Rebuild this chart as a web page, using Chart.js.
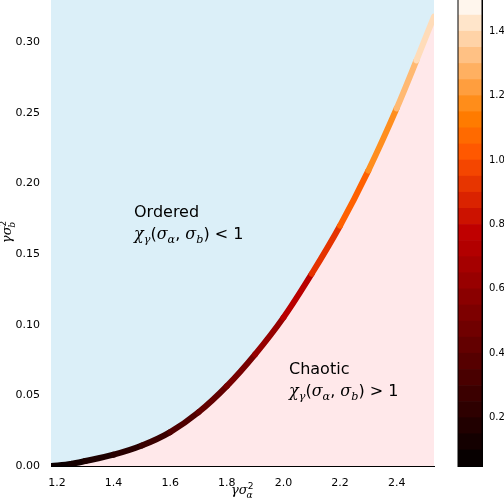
<!DOCTYPE html><html><head><meta charset="utf-8">
<script src="https://cdn.jsdelivr.net/npm/chart.js@4"></script>
<style>
body{margin:0;width:504px;height:504px;position:relative;background:#fff;font-family:"DejaVu Sans";overflow:hidden}
canvas{position:absolute;top:-10px}
.t{position:absolute;font-family:"DejaVu Sans";color:#000;white-space:nowrap}
.t i{font-family:"DejaVu Serif";font-style:italic}
sub,sup{font-size:70%;line-height:0}
</style></head><body>
<canvas id="c" style="left:0" width="440" height="514"></canvas>
<canvas id="cb" style="left:440px" width="64" height="514"></canvas>
<div class="t" style="left:134px;top:202px;font-size:16px">Ordered</div>
<div class="t" style="left:134px;top:224px;font-size:16px"><i>χ<sub>γ</sub></i>(<i>σ<sub>α</sub></i>, <i>σ<sub>b</sub></i>) &lt; 1</div>
<div class="t" style="left:289px;top:359px;font-size:16px">Chaotic</div>
<div class="t" style="left:289px;top:381px;font-size:16px"><i>χ<sub>γ</sub></i>(<i>σ<sub>α</sub></i>, <i>σ<sub>b</sub></i>) &gt; 1</div>
<div class="t" style="left:231px;top:482px;font-size:13px"><i>γσ</i><sup>2</sup><sub style="margin-left:-7px"><i>α</i></sub></div>
<div class="t" style="left:-4px;top:225px;font-size:13px;transform:rotate(-90deg)"><i>γσ</i><sup>2</sup><sub style="margin-left:-7px"><i>b</i></sub></div>
<script>
const boundaryX=[1.179,1.25,1.3,1.4,1.5,1.6,1.7,1.8,1.9,2.0,2.1,2.2,2.3,2.4,2.47,2.532];
const boundaryY=[0.0,0.0015,0.0035,0.008,0.0145,0.024,0.038,0.0565,0.079,0.105,0.136,0.170,0.209,0.253,0.287,0.318];
const chiValues=[0.1,0.13,0.16,0.2,0.27,0.35,0.42,0.5,0.62,0.75,0.92,1.05,1.18,1.3,1.4,1.48];
const xTicks=[1.2,1.4,1.6,1.8,2.0,2.2,2.4];
const yTicks=[0,0.05,0.1,0.15,0.2,0.25,0.3];
const cbTicks=[0.2,0.4,0.6,0.8,1.0,1.2,1.4];
const cbMin=0.05,cbMax=1.5;
function heat(v){const x=Math.max(0,Math.min(1,(v-cbMin)/(cbMax-cbMin)));const c=t=>Math.round(255*Math.max(0,Math.min(1,t)));return `rgb(${c(1.5*x)},${c(2*x-1)},${c(4*x-3)})`;}
const pts=boundaryX.map((x,i)=>({x,y:boundaryY[i]}));
Chart.defaults.font.family="DejaVu Sans";Chart.defaults.font.size=11;Chart.defaults.color="#000";
new Chart(document.getElementById('c'),{type:'line',data:{datasets:[
{data:pts,borderWidth:6,pointRadius:0,fill:false,cubicInterpolationMode:'monotone',borderJoinStyle:'round',borderCapStyle:'round',segment:{borderColor:ctx=>heat(chiValues[ctx.p0DataIndex])}},
{data:pts,borderWidth:0,pointRadius:0,cubicInterpolationMode:'monotone',borderColor:'rgba(0,0,0,0)',fill:'end',backgroundColor:'#dbeff8'},
{data:pts,borderWidth:0,pointRadius:0,cubicInterpolationMode:'monotone',borderColor:'rgba(0,0,0,0)',fill:'start',backgroundColor:'#ffe8ea'}]},
options:{responsive:false,animation:false,layout:{padding:{top:0,right:6,left:0,bottom:0}},
plugins:{legend:{display:false},tooltip:{enabled:false}},
scales:{x:{type:'linear',min:1.179,max:2.532,grid:{display:false},border:{color:'#000'},
afterBuildTicks:a=>{a.ticks=xTicks.map(v=>({value:v}))},ticks:{callback:v=>v.toFixed(1),maxRotation:0},afterFit:a=>{a.height=38}},
y:{min:0,max:0.33,grid:{display:false},border:{color:'#000'},afterBuildTicks:a=>{a.ticks=yTicks.map(v=>({value:v}))},
ticks:{callback:v=>v.toFixed(2)},afterFit:a=>{a.width=51}}}}});
const bandEdges=[];for(let v=cbMin;v<cbMax-1e-9;v+=0.05)bandEdges.push(+v.toFixed(2));
const cbData=bandEdges.map(v=>({label:'',data:[[v,Math.min(v+0.05,cbMax)]],backgroundColor:heat(v+0.025),barPercentage:1,categoryPercentage:1,borderWidth:0,borderSkipped:false}));
new Chart(document.getElementById('cb'),{type:'bar',data:{labels:[''],datasets:cbData},
options:{responsive:false,animation:false,layout:{padding:{left:18,top:0,bottom:38,right:0}},plugins:{legend:{display:false},tooltip:{enabled:false}},
scales:{x:{display:false,stacked:true},y:{stacked:false,position:'right',min:cbMin,max:cbMax,grid:{display:false,tickLength:4},border:{color:'#000'},
afterBuildTicks:a=>{a.ticks=cbTicks.map(v=>({value:v}))},ticks:{callback:v=>v.toFixed(1),padding:3,font:{size:10}},afterFit:a=>{a.width=22}}}},
plugins:[{id:'frame',afterDraw(ch){const a=ch.chartArea,g=ch.ctx;g.strokeStyle='#000';g.lineWidth=1;g.strokeRect(a.left,a.top+0.5,a.right-a.left,a.bottom-a.top);}}]});
</script></body></html>
